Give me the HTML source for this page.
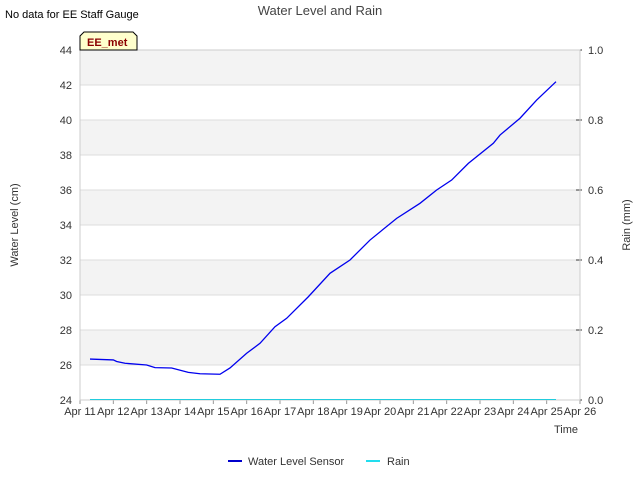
<!DOCTYPE html>
<html><head><meta charset="utf-8"><style>
body{margin:0;background:#fff;font-family:"Liberation Sans",sans-serif}
svg text{font-family:"Liberation Sans",sans-serif}
</style></head><body>
<svg id="c" width="640" height="480" xmlns="http://www.w3.org/2000/svg">
<text x="5" y="18" font-size="11" fill="#000">No data for EE Staff Gauge</text>
<text x="320" y="15" font-size="13" fill="#444" text-anchor="middle">Water Level and Rain</text>
<g id="plot"></g>
<text transform="translate(18,225) rotate(-90)" font-size="11" fill="#333" text-anchor="middle">Water Level (cm)</text>
<text transform="translate(630,225) rotate(-90)" font-size="11" fill="#333" text-anchor="middle">Rain (mm)</text>
<text x="578" y="433" font-size="11" fill="#333" text-anchor="end">Time</text>
<g><line x1="228" y1="461" x2="242" y2="461" stroke="#0000cc" stroke-width="2"/><text x="248" y="465" font-size="11" fill="#333">Water Level Sensor</text></g>
<g><line x1="366" y1="461" x2="380" y2="461" stroke="#22ddee" stroke-width="2"/><text x="387" y="465" font-size="11" fill="#333">Rain</text></g>
<g><path d="M80,50 L80,36 L84,32 L133,32 L137,36 L137,50 Z" fill="#ffffcc" stroke="#000" stroke-width="1"/><text x="87" y="46" font-size="11" font-weight="bold" fill="#8b0000">EE_met</text></g>
</svg>
<script>
const yTicks=[24,26,28,30,32,34,36,38,40,42,44];
const y2Ticks=[0.0,0.2,0.4,0.6,0.8,1.0];
const xLabels=["Apr 11","Apr 12","Apr 13","Apr 14","Apr 15","Apr 16","Apr 17","Apr 18","Apr 19","Apr 20","Apr 21","Apr 22","Apr 23","Apr 24","Apr 25","Apr 26"];
const wlDays=[0.3,1.0,1.1,1.35,2.0,2.25,2.75,3.25,3.6,4.2,4.5,5.0,5.4,5.85,6.2,6.85,7.5,8.1,8.7,9.5,10.2,10.7,11.15,11.65,12.4,12.6,13.2,13.7,14.28];
const wlVals=[26.34,26.29,26.2,26.1,26.0,25.85,25.83,25.58,25.5,25.47,25.83,26.67,27.24,28.19,28.67,29.9,31.24,32.0,33.14,34.38,35.24,36.0,36.57,37.52,38.67,39.14,40.1,41.14,42.19];
const rainDays=[0.3,14.28];
const rainVals=[0,0];
const L=80,R=580,T=50,B=400;
const x=d=>L+(R-L)*d/15;
const y=v=>B-(B-T)*(v-24)/20;
const y2=v=>B-(B-T)*v;
const NS="http://www.w3.org/2000/svg";
const g=document.getElementById('plot');
function mk(t,a,p){const e=document.createElementNS(NS,t);for(const k in a)e.setAttribute(k,a[k]);(p||g).appendChild(e);return e;}
for(let i=1;i<yTicks.length-1;i+=2){const r=mk('rect',{x:L,y:y(yTicks[i+1]),width:R-L,height:y(yTicks[i])-y(yTicks[i+1]),fill:'#f3f3f3'});}
yTicks.forEach(v=>{const l=mk('line',{x1:L,x2:R,y1:y(v),y2:y(v),stroke:'#dddddd'});
const t=mk('text',{x:L-8,y:y(v)+4,'font-size':11,fill:'#333','text-anchor':'end'});t.textContent=v;});
y2Ticks.forEach(v=>{mk('line',{x1:R-4,x2:R+2,y1:y2(v),y2:y2(v),stroke:'#333'});
const t=mk('text',{x:R+8,y:y2(v)+4,'font-size':11,fill:'#333'});t.textContent=v.toFixed(1);});
xLabels.forEach((s,i)=>{mk('line',{x1:x(i),x2:x(i),y1:B,y2:B+4,stroke:'#999'});
const t=mk('text',{x:x(i),y:B+15,'font-size':11,fill:'#333','text-anchor':'middle'});t.textContent=s;});
mk('rect',{x:L,y:T,width:R-L,height:B-T,fill:'none',stroke:'#cccccc'});
const rl=mk('polyline',{points:rainDays.map((d,i)=>x(d)+','+(y2(rainVals[i])-0.5)).join(' '),fill:'none',stroke:'#22ccdd',"stroke-width":1});

const wl=mk('polyline',{points:wlDays.map((d,i)=>x(d)+','+y(wlVals[i])).join(' '),fill:'none',stroke:'#0000ee',"stroke-width":1.3});

</script>
</body></html>
